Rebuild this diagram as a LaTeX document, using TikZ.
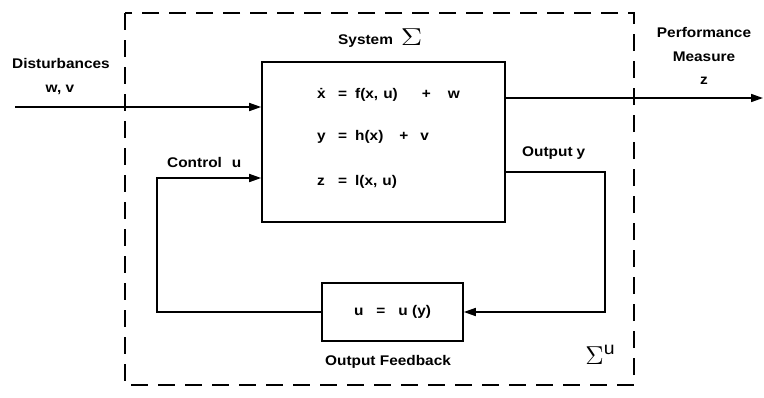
\documentclass[tikz,border=0pt]{standalone}
\usepackage{fontspec}
\setmainfont{Liberation Sans}[FakeStretch=1.1]
\usepackage{tikz}
\usetikzlibrary{arrows.meta,positioning,calc}

\tikzset{
  blockbox/.style={draw=black, line width=1.6pt, inner sep=0pt},
  sigline/.style={draw=black, line width=1.6pt},
  sigarrow/.style={sigline, -{Triangle[length=12pt,width=8pt]}},
  lbl/.style={font=\fontsize{14}{16}\selectfont\bfseries, inner sep=0pt},
  boundary/.style={draw=black, line width=1.5pt, dash pattern=on 17pt off 10pt},
}

\begin{document}
\begin{tikzpicture}[x=1pt, y=-1pt]
  \useasboundingbox (0,0) rectangle (764,397);

  % Closed-loop boundary (dashed)
  \draw[boundary] (125,13) rectangle (634,385);
  \node (sigu) at (600,355) [font=\fontsize{14}{14}\selectfont, inner sep=0pt] {\scalebox{1.8}{$\Sigma^{\mathrm{u}}$}};

  % Plant block Sigma
  \node (sys) at (383.5,142) [blockbox, minimum width=243pt, minimum height=160pt] {};
  \node (sysname) at (338,38) [lbl, anchor=west] {System\hspace{8pt}\raisebox{-1pt}{\scalebox{2.1}[1.7]{\mdseries$\Sigma$}}};
  \node (eqx) at (317,95) [lbl, anchor=west] {\makebox[21pt][l]{\.{x}}=\hspace{8pt}f(x,\hspace{5pt}u)\hspace{24pt}+\hspace{17pt}w};
  \node (eqy) at (317,137) [lbl, anchor=west] {\makebox[21pt][l]{y}=\hspace{8pt}h(x)\hspace{16pt}+\hspace{12pt}v};
  \node (eqz) at (317,182) [lbl, anchor=west] {\makebox[21pt][l]{z}=\hspace{8pt}l(x,\hspace{5pt}u)};

  % Feedback block
  \node (fb) at (392.5,312) [blockbox, minimum width=141pt, minimum height=58pt, lbl] {u\hspace{13pt}=\hspace{13pt}u (y)};
  \node (fbname) at (388,362) [lbl] {Output Feedback};

  % Outer signals
  \node (dist) at (61,63) [lbl] {Disturbances};
  \node (wv) at (60,90) [lbl] {w, v};
  \node (perf) at (704,56) [lbl, align=center, font=\fontsize{14}{23.5}\selectfont\bfseries] {Performance\\Measure\\z};
  \coordinate (din) at (15,107);
  \coordinate (zout) at (763,98);
  \draw[sigarrow] (din) -- (din -| sys.west);
  \draw[sigarrow] (sys.east |- zout) -- (zout);

  % Loop signals
  \node (ctrl) at (167,162) [lbl, anchor=west] {Control\hspace{10pt}u};
  \node (outy) at (522,153) [lbl, anchor=west] {Output\hspace{4pt}y};
  \coordinate (cu) at (157,178);
  \coordinate (ytap) at (605,172);
  \draw[sigarrow] (fb.west) -| (cu) -- (cu -| sys.west);
  \draw[sigarrow] (sys.east |- ytap) -- (ytap) |- (fb.east);

\end{tikzpicture}
\end{document}
